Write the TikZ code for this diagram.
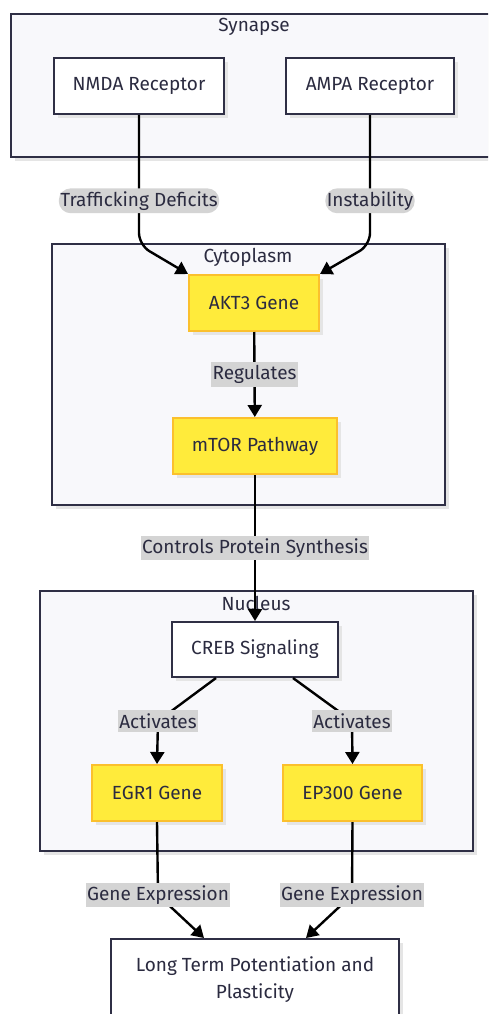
\documentclass[tikz,border=0pt]{standalone}
\usepackage{fontspec}
\setmainfont{Fira Sans}
\usetikzlibrary{shapes,arrows.meta,calc,shadows}
\definecolor{ink}{HTML}{2B2B40}
\definecolor{boxline}{HTML}{2F2F45}
\definecolor{clusterbg}{HTML}{F8F8FB}
\definecolor{genefill}{HTML}{FFEB3B}
\definecolor{geneline}{HTML}{FBC02D}
\definecolor{labelbg}{HTML}{D4D4D4}

\begin{document}
\begin{tikzpicture}[x=1pt, y=-1pt, font=\fontsize{19pt}{27pt}\selectfont, text=ink]

% Stilusok
\tikzstyle{cluster} = [rectangle, draw=boxline, fill=clusterbg, line width=2pt, drop shadow={shadow xshift=4pt, shadow yshift=-4pt, fill=black!10, opacity=1}]
\tikzstyle{plain} = [rectangle, minimum height=56pt, text centered, draw=boxline, fill=white, line width=2pt, drop shadow={shadow xshift=4pt, shadow yshift=-4pt, fill=black!10, opacity=1}]
\tikzstyle{gene} = [rectangle, minimum height=56pt, text centered, draw=geneline, fill=genefill, line width=2pt, drop shadow={shadow xshift=4pt, shadow yshift=-4pt, fill=black!10, opacity=1}]
\tikzstyle{edgelabel} = [fill=labelbg, inner xsep=1.5pt, inner ysep=3pt]
\tikzstyle{arrow} = [line width=2.4pt, ->, >={Triangle[length=12pt,width=14pt]}]

\clip (0,0) rectangle (488,1014);
\fill[white] (0,0) rectangle (488,1014);

% Tartok
\node (synapse) [cluster, minimum width=486pt, minimum height=143pt] at (254,85.5) {};
\node (cytoplasm) [cluster, minimum width=393pt, minimum height=261pt] at (248.5,374.5) {};
\node (nucleus) [cluster, minimum width=433pt, minimum height=260pt] at (256.5,721) {};
\node (synapsetitle) at (254,27) {Synapse};
\node (cytoplasmtitle) at (248,257) {Cytoplasm};
\node (nucleustitle) at (256,603) {Nucleus};

% Elemek
\node (nmda) [plain, minimum width=170pt] at (139,86) {NMDA Receptor};
\node (ampa) [plain, minimum width=168pt] at (370,86) {AMPA Receptor};
\node (akt3) [gene, minimum width=130pt] at (254,303) {AKT3 Gene};
\node (mtor) [gene, minimum width=164pt] at (255,446) {mTOR Pathway};
\node (creb) [plain, minimum width=166pt, minimum height=55pt] at (255,649.5) {CREB Signaling};
\node (egr1) [gene, minimum width=130pt] at (157,793) {EGR1 Gene};
\node (ep300) [gene, minimum width=139pt] at (352.5,793) {EP300 Gene};
\node (ltp) [plain, minimum width=288pt, minimum height=81pt, align=center] at (255,979.5) {Long Term Potentiation and\\Plasticity};

% Toresek
\coordinate (bendL) at (139,245);
\coordinate (bendR) at (370,245);
\coordinate (actL) at (158,721);
\coordinate (actR) at (352,721);
\coordinate (expL) at (158,895);
\coordinate (expR) at (352,895);

% Vonalak
\draw [arrow, rounded corners=12pt] (nmda.south) -- node[edgelabel, pos=0.66] {Trafficking Deficits} (bendL) -- (akt3.north west);
\draw [arrow, rounded corners=12pt] (ampa.south) -- node[edgelabel, pos=0.66] {Instability} (bendR) -- (akt3.north east);
\draw [arrow] (akt3) -- node[edgelabel] {Regulates} (mtor);
\draw [arrow] (mtor) -- node[edgelabel] {Controls Protein Synthesis} (creb);
\draw [arrow] ($(creb.south)+(-39,0)$) -- (actL) -- (egr1.north);
\draw [arrow] ($(creb.south)+(38,0)$) -- (actR) -- (ep300.north);
\node[edgelabel] at (actL) {Activates};
\node[edgelabel] at (actR) {Activates};
\draw [arrow] (egr1.south) -- (expL) -- ($(ltp.north)+(-51,0)$);
\draw [arrow] (ep300.south) -- (expR) -- ($(ltp.north)+(51,0)$);
\node[edgelabel] at (expL) {Gene Expression};
\node[edgelabel] at (expR) {Gene Expression};
\end{tikzpicture}
\end{document}
